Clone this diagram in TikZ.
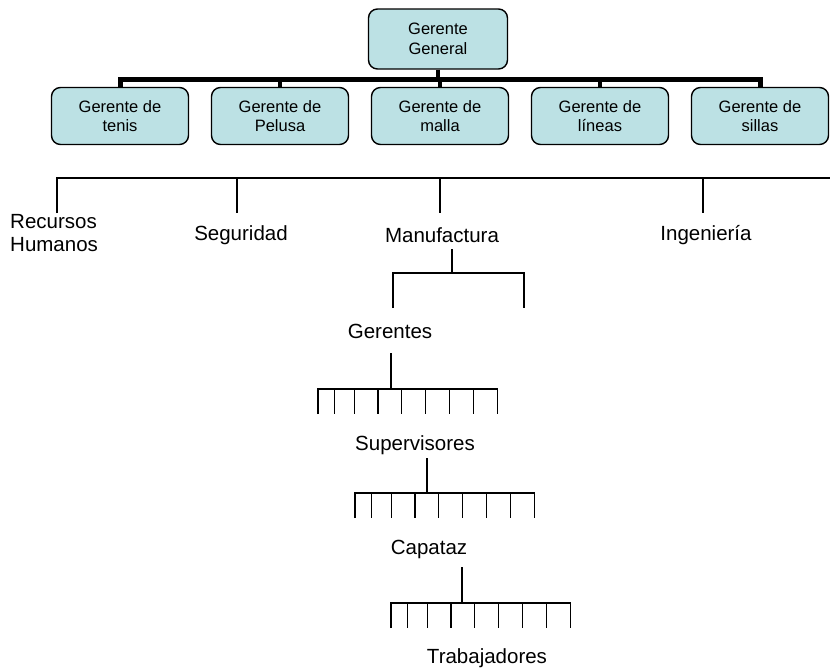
\documentclass[tikz,border=0pt]{standalone}
\usepackage{fontspec}
\setmainfont{Liberation Sans}
\definecolor{boxfill}{RGB}{188,225,228}
\begin{document}
\begin{tikzpicture}[x=1pt,y=-1pt,
  box/.style={draw=black, line width=1.4pt, fill=boxfill, rounded corners=9pt,
    minimum width=137pt, minimum height=57pt, align=center, inner sep=0pt,
    font=\fontsize{16.5}{19.5}\selectfont},
  lbl/.style={font=\fontsize{20.5}{23}\selectfont, inner sep=0pt, align=center},
  wire/.style={line width=1.6pt},
  busline/.style={line width=5pt},
  drop/.style={line width=4pt},
]
\useasboundingbox (0,0) rectangle (830,670);

% top management
\node[box, minimum width=139pt, minimum height=60pt] (gg) at (438,39) {Gerente\\General};
\node[box] (b1) at (120,116) {Gerente de\\tenis};
\node[box] (b2) at (280,116) {Gerente de\\Pelusa};
\node[box] (b3) at (440,116) {Gerente de\\malla};
\node[box] (b4) at (600,116) {Gerente de\\líneas};
\node[box] (b5) at (760,116) {Gerente de\\sillas};

\coordinate (busy) at (0,79);
\draw[busline] (b1.north) -- (b1.north |- busy) -- (b5.north |- busy) -- (b5.north);
\draw[drop] (gg.south) -- (gg.south |- busy);
\foreach \b in {b2,b3,b4} \draw[drop] (\b.north |- busy) -- (\b.north);

% departments
\node[lbl, align=left, anchor=west] (rh) at (10,233.5) {Recursos\\Humanos};
\node[lbl] (seg) at (241,235) {Seguridad};
\node[lbl] (man) at (442,235) {Manufactura};
\node[lbl] (ing) at (706,235) {Ingeniería};

\coordinate (hl) at (57,178);
\coordinate (hr) at (830,178);
\coordinate (d1) at (57,213);
\coordinate (d2) at (237,213);
\coordinate (d3) at (440,213);
\coordinate (d4) at (703,213);
\draw[wire] (d1) -- (hl) -- (hr);
\foreach \d in {d2,d3,d4} \draw[wire] (\d |- hl) -- (\d);

% manufacturing bracket
\coordinate (m0) at (452,249);
\coordinate (mb) at (452,273);
\coordinate (ml) at (393,308);
\coordinate (mr) at (524,308);
\draw[wire] (m0) -- (mb);
\draw[wire] (ml) -- (ml |- mb) -- (mr |- mb) -- (mr);

% hierarchy levels with comb connectors
\node[lbl] (ger) at (390,331) {Gerentes};
\node[lbl] (sup) at (415,445) {Supervisores};
\node[lbl] (cap) at (429,549) {Capataz};
\node[lbl] (tra) at (487,658) {Trabajadores};

\coordinate (s1) at (391,353);
\coordinate (c1) at (318,389);
\coordinate (s2) at (427,458);
\coordinate (c2) at (355,493);
\coordinate (s3) at (462,567);
\coordinate (c3) at (391,603);

\foreach \s/\c in {s1/c1, s2/c2, s3/c3}{
  \draw[wire] (\s) -- (\s |- \c);
  \draw[wire] ([yshift=-25pt]\c) -- (\c) -- ([xshift=179.5pt]\c) -- ([xshift=179.5pt,yshift=-25pt]\c);
  \foreach \o in {16.5,36.5,60,83.5,107.5,131.5,155.5}
    \draw[wire] ([xshift=\o pt]\c) -- ([xshift=\o pt,yshift=-25pt]\c);
}
\end{tikzpicture}
\end{document}
